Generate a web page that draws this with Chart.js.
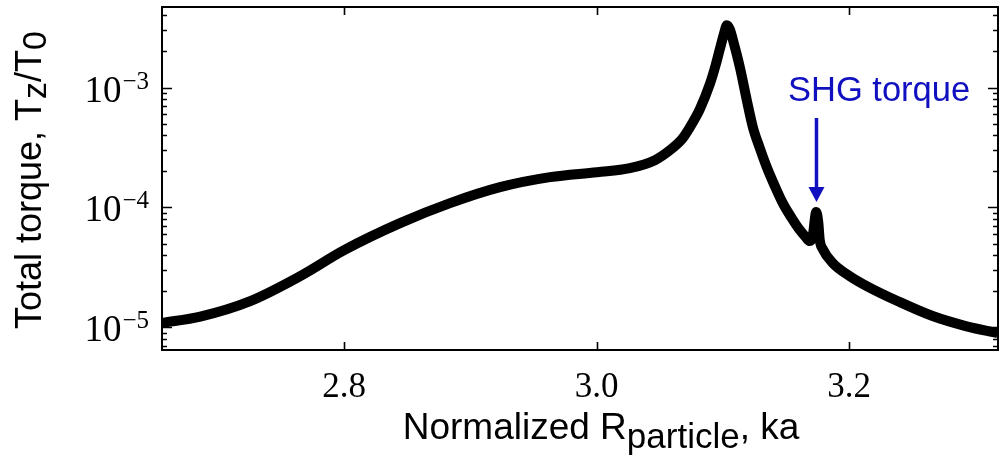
<!DOCTYPE html>
<html>
<head>
<meta charset="utf-8">
<script src="https://cdn.jsdelivr.net/npm/chart.js@4/dist/chart.umd.min.js"></script>
<style>
html,body{margin:0;padding:0;background:#fff;}
#wrap{width:1000px;height:459px;position:relative;}
</style>
</head>
<body>
<div id="wrap"><canvas id="c" width="1000" height="459"></canvas></div>
<script>
// ---- data ----
const kaValues = [2.6557, 2.6860, 2.7256, 2.7652, 2.8000, 2.8443, 2.8839, 2.9235, 2.9631, 3.0003, 3.0264, 3.0462, 3.0581, 3.0683, 3.0763, 3.0818, 3.0897, 3.0945, 3.0976, 3.1008, 3.1032, 3.1055, 3.1087, 3.1135, 3.1190, 3.1238, 3.1293, 3.1348, 3.1412, 3.1475, 3.1546, 3.1610, 3.1657, 3.1689, 3.1712, 3.1740, 3.1756, 3.1768, 3.1792, 3.1871, 3.2005, 3.2140, 3.2401, 3.2662, 3.2924, 3.3177];
const torqueValues = [1.086e-5, 1.230e-5, 1.656e-5, 2.676e-5, 4.406e-5, 7.399e-5, 1.086e-4, 1.476e-4, 1.789e-4, 1.968e-4, 2.126e-4, 2.478e-4, 3.002e-4, 3.780e-4, 5.138e-4, 6.595e-4, 1.065e-3, 1.563e-3, 2.085e-3, 2.780e-3, 3.305e-3, 3.060e-3, 2.339e-3, 1.476e-3, 7.834e-4, 4.668e-4, 3.120e-4, 2.167e-4, 1.505e-4, 1.086e-4, 8.141e-5, 6.467e-5, 5.653e-5, 5.238e-5, 5.764e-5, 9.137e-5, 7.541e-5, 5.340e-5, 4.492e-5, 3.434e-5, 2.676e-5, 2.209e-5, 1.625e-5, 1.242e-5, 1.025e-5, 8.966e-6];
const xTickValues = [2.8, 3.0, 3.2];
const xTickLabels = ['2.8', '3.0', '3.2'];
const yTickExponents = [-5, -4, -3];
const xRange = [2.6557, 3.318];
const yRange = [6.47e-6, 4.694e-3];
const annotationText = 'SHG torque';
const annotationX = 3.1742;
const xTitle = ['Normalized R', 'particle', ', ka'];
const yTitle = ['Total torque, T', 'z', '/T', '0'];

const points = kaValues.map((x, i) => ({x: x, y: torqueValues[i]}));

const decor = {
  id: 'decor',
  afterDraw(chart) {
    const ctx = chart.ctx, a = chart.chartArea;
    const xs = chart.scales.x, ys = chart.scales.y;
    ctx.save();
    // frame
    ctx.strokeStyle = '#000';
    ctx.lineWidth = 2;
    ctx.strokeRect(a.left, a.top, a.right - a.left, a.bottom - a.top);
    // x ticks
    ctx.lineWidth = 1.6;
    ctx.beginPath();
    xTickValues.forEach(v => {
      const px = Math.round(xs.getPixelForValue(v)) + 0.5;
      ctx.moveTo(px, a.bottom); ctx.lineTo(px, a.bottom - 8);
      ctx.moveTo(px, a.top); ctx.lineTo(px, a.top + 8);
    });
    ctx.stroke();
    // y ticks (major + minor)
    ctx.beginPath();
    for (let e = -6; e <= -2; e++) {
      for (let k = 1; k <= 9; k++) {
        const v = k * Math.pow(10, e);
        if (v < yRange[0] || v > yRange[1]) continue;
        const py = Math.round(ys.getPixelForValue(v)) + 0.5;
        const len = k === 1 ? 10 : 5;
        ctx.moveTo(a.left, py); ctx.lineTo(a.left + len, py);
        ctx.moveTo(a.right, py); ctx.lineTo(a.right - len, py);
      }
    }
    ctx.stroke();
    // x tick labels
    ctx.fillStyle = '#000';
    ctx.font = '35px "Liberation Serif"';
    ctx.textAlign = 'center';
    ctx.textBaseline = 'alphabetic';
    xTickValues.forEach((v, i) => {
      ctx.fillText(xTickLabels[i], xs.getPixelForValue(v), a.bottom + 47);
    });
    // y tick labels 10^e
    yTickExponents.forEach(e => {
      const py = ys.getPixelForValue(Math.pow(10, e));
      const sup = '\u2212' + String(-e);
      ctx.font = '25px "Liberation Serif"';
      const wSup = ctx.measureText(sup).width;
      const right = a.left - 13;
      ctx.textAlign = 'left';
      ctx.fillText(sup, right - wSup, py + 1);
      ctx.font = '37px "Liberation Serif"';
      const wBase = ctx.measureText('10').width;
      ctx.fillText('10', right - wSup - wBase - 1, py + 14);
    });
    // x title
    ctx.textAlign = 'left';
    const mainF = '37px "Liberation Sans"', subF = '35px "Liberation Sans"';
    ctx.font = mainF; const w0 = ctx.measureText(xTitle[0]).width;
    ctx.font = subF; const w1 = ctx.measureText(xTitle[1]).width;
    ctx.font = mainF; const w2 = ctx.measureText(xTitle[2]).width;
    let xStart = 601 - (w0 + w1 + w2) / 2;
    const base = 438.5;
    ctx.font = mainF; ctx.fillText(xTitle[0], xStart, base);
    ctx.font = subF; ctx.fillText(xTitle[1], xStart + w0, base + 9);
    ctx.font = mainF; ctx.fillText(xTitle[2], xStart + w0 + w1, base);
    // y title (rotated)
    ctx.save();
    ctx.translate(40.5, 180);
    ctx.rotate(-Math.PI / 2);
    const yMain = '36px "Liberation Sans"', ySub = '34px "Liberation Sans"';
    const parts = yTitle.map((t, i) => { ctx.font = i % 2 ? ySub : yMain; return ctx.measureText(t).width; });
    const total = parts.reduce((s, w) => s + w, 0);
    let cx = -total / 2;
    yTitle.forEach((t, i) => {
      ctx.font = i % 2 ? ySub : yMain;
      ctx.fillText(t, cx, i % 2 ? 5 : 0);
      cx += parts[i];
    });
    ctx.restore();
    // annotation
    const ax = xs.getPixelForValue(annotationX);
    ctx.fillStyle = '#1010c0';
    ctx.strokeStyle = '#1010c0';
    ctx.font = '34.5px "Liberation Sans"';
    ctx.textAlign = 'left';
    ctx.fillText(annotationText, 788, 100.5);
    ctx.lineWidth = 3.5;
    ctx.beginPath();
    ctx.moveTo(ax, 118); ctx.lineTo(ax, 190);
    ctx.stroke();
    ctx.beginPath();
    ctx.moveTo(ax - 8, 187); ctx.lineTo(ax + 8, 187); ctx.lineTo(ax, 202); ctx.closePath();
    ctx.fill();
    ctx.restore();
  }
};

new Chart(document.getElementById('c'), {
  type: 'line',
  data: {
    datasets: [{
      data: points,
      borderColor: '#000',
      borderWidth: 10,
      pointRadius: 0,
      fill: false,
      cubicInterpolationMode: 'monotone',
      borderJoinStyle: 'round',
      borderCapStyle: 'butt',
      clip: 0
    }]
  },
  options: {
    responsive: false,
    animation: false,
    events: [],
    layout: {padding: {left: 162, right: 2, top: 7, bottom: 109}},
    plugins: {legend: {display: false}, tooltip: {enabled: false}, title: {display: false}},
    scales: {
      x: {type: 'linear', min: xRange[0], max: xRange[1], display: false},
      y: {type: 'logarithmic', min: yRange[0], max: yRange[1], display: false}
    }
  },
  plugins: [decor]
});
</script>
</body>
</html>
